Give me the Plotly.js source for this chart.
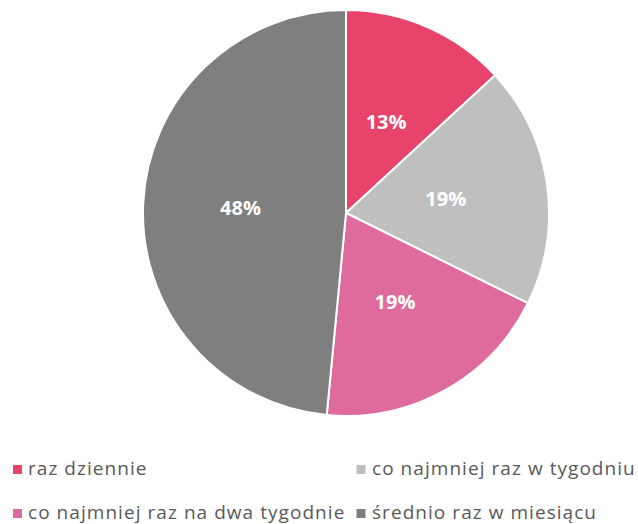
<!DOCTYPE html>
<html>
<head>
<meta charset="utf-8">
<script src="https://cdn.plot.ly/plotly-3.0.1.min.js"></script>
<style>
html,body{margin:0;padding:0;background:#fff;}
#chart{width:638px;height:524px;}
.annotation-text{letter-spacing:1.05px;}
</style>
</head>
<body>
<div id="chart"></div>
<script>
const categories = ["raz dziennie", "co najmniej raz w tygodniu", "co najmniej raz na dwa tygodnie", "średnio raz w miesiącu"];
const values = [13, 19, 19, 48];
const colors = ["#E8436A", "#BFBFBF", "#DF6B9C", "#7F7F7F"];

const W = 638, H = 524;
// legend layout (pixel positions of marker centre)
const legendPos = [
  {mx: 17.5, y: 469.5},
  {mx: 361, y: 469.5},
  {mx: 17.5, y: 513.5},
  {mx: 361, y: 513.5}
];

const shapes = [];
const annotations = [];
categories.forEach((c, i) => {
  const p = legendPos[i];
  const s = 4.5;
  shapes.push({type: 'rect', xref: 'paper', yref: 'paper',
    x0: (p.mx - s) / W, x1: (p.mx + s) / W, y0: 1 - (p.y + s) / H, y1: 1 - (p.y - s) / H,
    fillcolor: colors[i], line: {width: 0}});
  annotations.push({xref: 'paper', yref: 'paper', x: (p.mx + 9.5) / W, y: 1 - (p.y - 1.5) / H,
    xanchor: 'left', yanchor: 'middle', text: c, showarrow: false, borderpad: 0,
    font: {family: 'Open Sans, sans-serif', size: 19, color: '#595959'}});
});

const cx = 346, cy = 213, R = 203;
function dom(r) {
  return {x: [(cx - r) / W, (cx + r) / W], y: [1 - (cy + r) / H, 1 - (cy - r) / H]};
}
const labelFont = {family: 'Open Sans, sans-serif', size: 20, color: '#FFFFFF', weight: 'bold'};

// main pie: the slices
const data = [{
  type: 'pie',
  labels: categories,
  values: values,
  sort: false,
  direction: 'clockwise',
  rotation: 0,
  marker: {colors: colors, line: {color: '#FFFFFF', width: 2}},
  textinfo: 'none',
  hoverinfo: 'label+percent',
  domain: dom(R),
  showlegend: false
}];

// transparent label layers so the data labels sit where the original puts them
const labelLayers = [
  {r: 140, show: [0]},
  {r: 158, show: [1, 2]},
  {r: 211, show: [3]}
];
labelLayers.forEach(L => {
  data.push({
    type: 'pie',
    labels: categories,
    values: values,
    sort: false,
    direction: 'clockwise',
    rotation: 0,
    marker: {colors: values.map(() => 'rgba(0,0,0,0)'), line: {width: 0}},
    texttemplate: values.map((v, i) => L.show.includes(i) ? '%{value}%' : ''),
    textposition: 'inside',
    insidetextorientation: 'horizontal',
    textfont: labelFont,
    hoverinfo: 'skip',
    domain: dom(L.r),
    showlegend: false
  });
});

const layout = {
  width: W, height: H,
  margin: {l: 0, r: 0, t: 0, b: 0},
  paper_bgcolor: '#FFFFFF',
  showlegend: false,
  shapes: shapes,
  annotations: annotations
};

Plotly.newPlot('chart', data, layout, {displayModeBar: false, staticPlot: true});
</script>
</body>
</html>
